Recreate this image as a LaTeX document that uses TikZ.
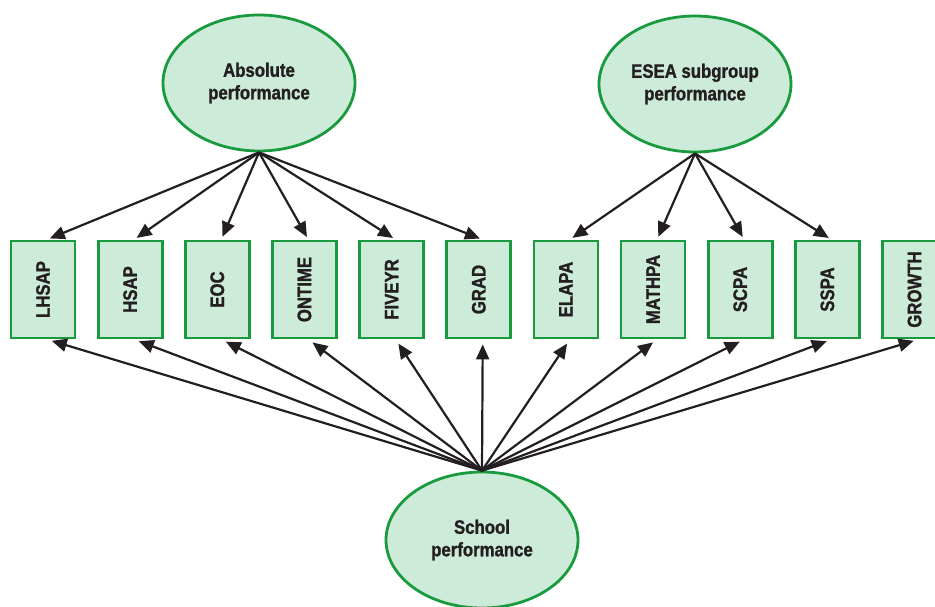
\documentclass[tikz,border=0pt]{standalone}
\usepackage{fontspec}
\setmainfont[FakeStretch=0.86,BoldFeatures={FakeBold=1.2}]{Liberation Sans}
\usetikzlibrary{arrows.meta,shapes.geometric,calc}
\definecolor{boxfill}{HTML}{CDEBD9}
\definecolor{boxline}{HTML}{1A9A3E}
\definecolor{txt}{HTML}{231F20}
\begin{document}
\begin{tikzpicture}[x=1pt,y=-1pt,
  latent/.style={ellipse,draw=boxline,fill=boxfill,line width=2.8pt,minimum width=192pt,minimum height=136pt,inner sep=0pt,
    font=\fontsize{19.5}{22.5}\selectfont\bfseries,text=txt,align=center},
  obsbox/.style={rectangle,draw=boxline,fill=boxfill,line width=2.8pt,minimum width=64pt,minimum height=97pt,inner sep=0pt},
  obslabel/.style={rotate=90,font=\fontsize{19.5}{20}\selectfont\bfseries,text=txt},
  link/.style={line width=2.2pt,draw=txt,-{Triangle[length=15pt,width=13pt]},shorten >=3pt}
]
\clip (0,0) rectangle (935,607);
\useasboundingbox (0,0) rectangle (935,607);
\node[latent] (abs) at (259,83) {Absolute\\performance};
\node[latent] (esea) at (695,84) {ESEA subgroup\\performance};
\node[latent] (school) at (482,540) {School\\performance};
\foreach \n/\lab [count=\i from 0] in {b0/LHSAP,b1/HSAP,b2/EOC,b3/ONTIME,b4/FIVEYR,b5/GRAD,b6/ELAPA,b7/MATHPA,b8/SCPA,b9/SSPA,b10/GROWTH}{
  \node[obsbox] (\n) at ({43+87.15*\i},289.5) {};
  \node[obslabel] (\n t) at (\n.center) {\lab};
}
\foreach \n in {b0,b1,b2,b3,b4,b5}{
  \draw[link] (abs.south) -- ($(\n.north)+(4,0)$);
}
\foreach \n in {b6,b7,b8,b9}{
  \draw[link] (esea.south) -- ($(\n.north)+(4,0)$);
}
\foreach \n in {b0,b1,b2,b3,b4,b5,b6,b7,b8,b9,b10}{
  \draw[link,shorten >=5pt] (school.north) -- ($(\n.south)+(4,0)$);
}
\end{tikzpicture}
\end{document}
